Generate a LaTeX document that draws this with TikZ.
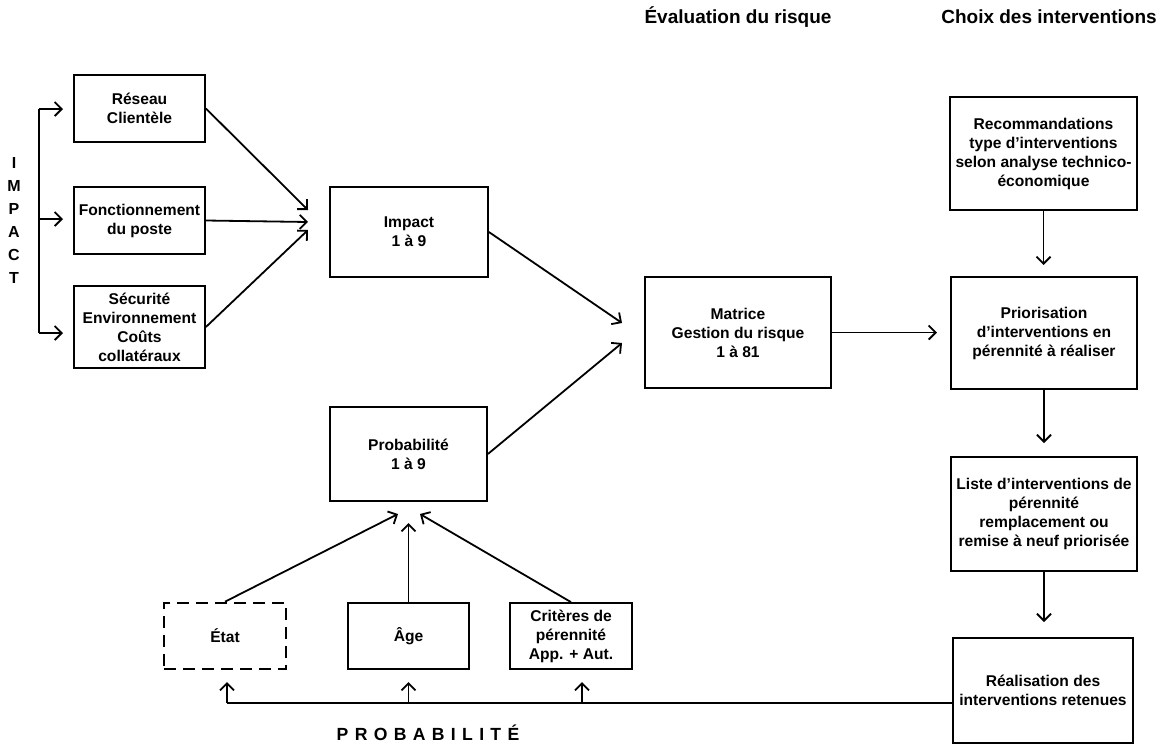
\documentclass[tikz,border=0pt]{standalone}
\usepackage{fontspec}
\setmainfont{Liberation Sans}
\usetikzlibrary{arrows.meta}

\newcommand{\boxfont}{\fontsize{7.8}{9.5}\selectfont\bfseries}
\newcommand{\headfont}{\fontsize{9.5}{11}\selectfont\bfseries}

\tikzset{
  bloc/.style={draw, line width=0.9pt, align=center, inner sep=0pt, font=\boxfont},
  pointille/.style={bloc, line width=1.3pt, dash pattern=on 6pt off 3.5pt},
  fleche/.style={->, line width=0.9pt},
  trait/.style={line width=0.9pt},
}

\begin{document}
\begin{tikzpicture}[x=0.5pt, y=-0.5pt, >={Straight Barb[length=3.5pt,width=7pt]}]
    \useasboundingbox (0,0) rectangle (1164,745);

    % titres
    \node[font=\headfont] (teval) at (738,17) {Évaluation du risque};
    \node[font=\headfont] (tchoix) at (1049,17) {Choix des interventions};

    % impact
    \node[font=\fontsize{8}{11.5}\selectfont\bfseries, align=center] (timpact) at (14,220) {I\\M\\P\\A\\C\\T};
    \node[bloc, minimum width=65.5pt, minimum height=33.5pt] (reseau) at (139.5,108.5) {Réseau\\Clientèle};
    \node[bloc, minimum width=65.5pt, minimum height=33.5pt] (fonct) at (139.5,220.5) {Fonctionnement\\du poste};
    \node[bloc, minimum width=65.5pt, minimum height=41pt] (secu) at (139.5,327) {Sécurité\\Environnement\\Coûts\\collatéraux};
    \node[bloc, minimum width=79pt, minimum height=45pt] (impact) at (409,232) {Impact\\1 à 9};

    % probabilite
    \node[bloc, minimum width=78.5pt, minimum height=47pt] (proba) at (408.5,454) {Probabilité\\1 à 9};
    \node[pointille, minimum width=61pt, minimum height=33pt] (etat) at (225,636) {État};
    \node[bloc, minimum width=60.5pt, minimum height=33pt] (age) at (408.5,636) {Âge};
    \node[bloc, minimum width=61pt, minimum height=33pt] (criteres) at (571,636) {Critères de\\pérennité\\App. + Aut.};
    \node[font=\fontsize{8.8}{10}\selectfont\bfseries\addfontfeature{LetterSpace=36}] (tproba) at (428,733) {PROBABILITÉ};

    % matrice et choix
    \node[bloc, minimum width=93pt, minimum height=55.5pt] (matrice) at (738,332.5) {Matrice\\Gestion du risque\\1 à 81};
    \node[bloc, minimum width=93.5pt, minimum height=56.5pt] (recom) at (1043.5,153.5) {Recommandations\\type d’interventions\\selon analyse technico-\\économique};
    \node[bloc, minimum width=93pt, minimum height=56pt] (prior) at (1044,333) {Priorisation\\d’interventions en\\pérennité à réaliser};
    \node[bloc, minimum width=93pt, minimum height=57pt] (liste) at (1044,514) {Liste d’interventions de\\pérennité\\remplacement ou\\remise à neuf priorisée};
    \node[bloc, minimum width=90pt, minimum height=52.5pt] (realis) at (1043,690.5) {Réalisation des\\interventions retenues};

    % accolade impact
    \coordinate (b1) at (39,109);
    \coordinate (b2) at (39,219);
    \coordinate (b3) at (39,333);
    \draw[trait] (b1) -- (b3);
    \draw[fleche] (b1) -- (63,109);
    \draw[fleche] (b2) -- (63,219);
    \draw[fleche] (b3) -- (63,333);

    % vers impact
    \coordinate (i1) at (308,210);
    \coordinate (i2) at (308,222);
    \coordinate (i3) at (308,230);
    \draw[fleche] (reseau.east) -- (i1);
    \draw[fleche] (fonct.east) -- (i2);
    \draw[fleche] (secu.east) -- (i3);

    % vers matrice
    \coordinate (m1) at (622,323);
    \coordinate (m2) at (622,343);
    \draw[fleche] (impact.east) -- (m1);
    \draw[fleche] (proba.east) -- (m2);

    % vers probabilite
    \coordinate (q1) at (398,514);
    \coordinate (q2) at (408.5,523);
    \coordinate (q3) at (420,514);
    \draw[fleche] (etat.north) -- (q1);
    \draw[fleche] (age.north) -- (q2);
    \draw[fleche] (criteres.north) -- (q3);

    % colonne de droite
    \coordinate (p0) at (937,332.5);
    \coordinate (p1) at (1043.5,265);
    \coordinate (l1) at (1044,443);
    \coordinate (r0) at (1044,622);
    \draw[fleche] (matrice.east) -- (p0);
    \draw[fleche] (recom.south) -- (p1);
    \draw[fleche] (prior.south) -- (l1);
    \draw[fleche] (liste.south) -- (r0);

    % retour
    \coordinate (f0) at (227,703);
    \coordinate (f1) at (408.5,703);
    \coordinate (f2) at (582,703);
    \draw[trait] (realis.west |- f0) -- (f0);
    \draw[fleche] (f0) -- (227,682);
    \draw[fleche] (f1) -- (408.5,682);
    \draw[fleche] (f2) -- (582,682);
\end{tikzpicture}
\end{document}
